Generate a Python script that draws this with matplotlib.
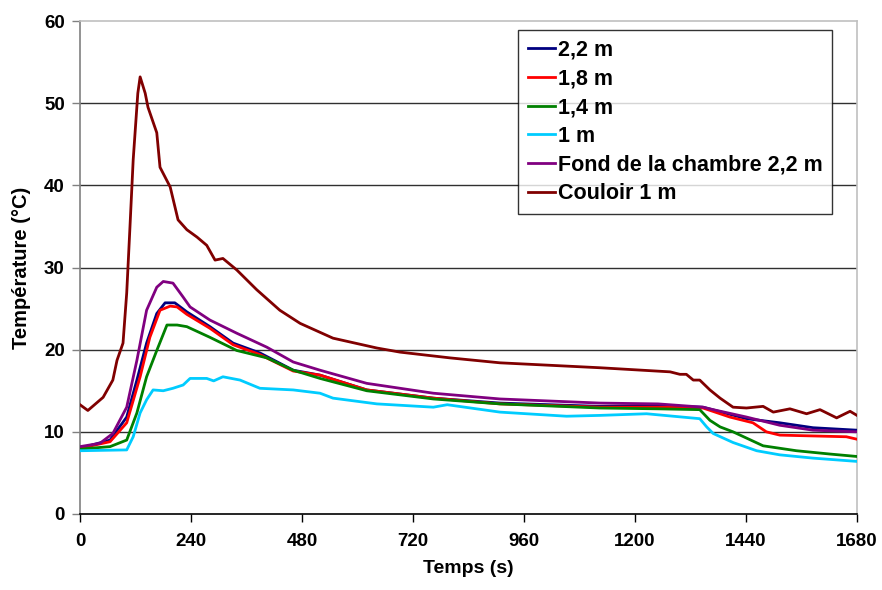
import matplotlib
matplotlib.use("Agg")
import matplotlib.pyplot as plt

plt.rcParams['font.family'] = ['Liberation Sans', 'DejaVu Sans']
plt.rcParams['font.weight'] = 'bold'

# --- data (time in s, temperature in °C) ---
t_couloir = [0, 17, 50, 71, 80, 93, 101, 108, 115, 125, 130, 141, 147, 166, 173, 195, 212, 231, 253, 274,
             292, 309, 339, 382, 432, 476, 547, 642, 692, 800, 908, 1016, 1124, 1276, 1297, 1311, 1326,
             1340, 1362, 1384, 1412, 1441, 1477, 1499, 1535, 1571, 1600, 1636, 1665, 1680]
T_couloir = [13.3, 12.6, 14.2, 16.3, 18.7, 20.8, 26.9, 34.9, 43.1, 51.2, 53.2, 51.2, 49.5, 46.4, 42.2, 39.8,
             35.8, 34.6, 33.7, 32.7, 30.9, 31.1, 29.7, 27.3, 24.8, 23.2, 21.4, 20.2, 19.7, 19.0, 18.4, 18.1,
             17.8, 17.3, 17.0, 17.0, 16.3, 16.3, 15.1, 14.1, 13.0, 12.9, 13.1, 12.4, 12.8, 12.2, 12.7, 11.7,
             12.5, 12.0]

t_fond = [0, 43, 71, 101, 123, 144, 166, 180, 201, 223, 238, 281, 339, 404, 461, 519, 620, 764, 908,
          1124, 1250, 1347, 1369, 1441, 1513, 1585, 1680]
T_fond = [8.2, 8.6, 9.8, 13.0, 18.7, 24.8, 27.6, 28.3, 28.1, 26.4, 25.2, 23.6, 22.0, 20.3, 18.5, 17.5,
          15.9, 14.7, 14.0, 13.5, 13.4, 13.0, 12.7, 11.8, 10.8, 10.2, 10.0]

t_22 = [0, 65, 101, 123, 144, 166, 184, 205, 231, 281, 331, 389, 461, 519, 620, 764, 908, 1124, 1250,
        1347, 1441, 1513, 1585, 1680]
T_22 = [8.0, 9.0, 11.8, 16.3, 20.8, 24.4, 25.7, 25.7, 24.6, 22.8, 20.8, 19.6, 17.5, 16.9, 15.1, 14.1,
        13.5, 13.1, 13.2, 13.0, 11.6, 11.1, 10.5, 10.2]

t_18 = [0, 65, 101, 130, 151, 173, 195, 210, 231, 281, 331, 389, 461, 519, 620, 764, 908, 1124, 1250,
        1347, 1405, 1455, 1484, 1513, 1585, 1657, 1680]
T_18 = [8.0, 8.8, 11.1, 16.7, 21.5, 24.8, 25.3, 25.2, 24.3, 22.6, 20.6, 19.4, 17.4, 16.9, 15.1, 14.1,
        13.4, 13.0, 13.0, 12.9, 11.8, 11.1, 10.0, 9.6, 9.5, 9.4, 9.1]

t_14 = [0, 65, 101, 123, 144, 166, 188, 210, 231, 281, 339, 404, 461, 519, 620, 764, 908, 1124, 1250,
        1340, 1362, 1384, 1412, 1477, 1549, 1621, 1680]
T_14 = [7.9, 8.2, 9.0, 12.3, 16.7, 19.9, 23.0, 23.0, 22.8, 21.5, 19.9, 19.0, 17.5, 16.5, 15.0, 14.0,
        13.4, 12.9, 12.8, 12.7, 11.4, 10.6, 10.0, 8.3, 7.7, 7.3, 7.0]

t_10 = [0, 101, 115, 130, 144, 158, 180, 201, 223, 238, 274, 289, 309, 346, 389, 461, 519, 547, 642,
        764, 794, 908, 1052, 1124, 1225, 1340, 1355, 1369, 1412, 1463, 1513, 1585, 1680]
T_10 = [7.7, 7.8, 9.4, 12.3, 13.9, 15.1, 15.0, 15.3, 15.7, 16.5, 16.5, 16.2, 16.7, 16.3, 15.3, 15.1,
        14.7, 14.1, 13.4, 13.0, 13.3, 12.4, 11.9, 12.0, 12.2, 11.6, 10.6, 9.8, 8.7, 7.7, 7.2, 6.8, 6.4]

series = [
    ("2,2 m", t_22, T_22, "#000080"),
    ("1,8 m", t_18, T_18, "#ff0000"),
    ("1,4 m", t_14, T_14, "#008000"),
    ("1 m", t_10, T_10, "#00ccff"),
    ("Fond de la chambre 2,2 m", t_fond, T_fond, "#800080"),
    ("Couloir 1 m", t_couloir, T_couloir, "#800000"),
]
x_ticks = [0, 240, 480, 720, 960, 1200, 1440, 1680]
y_ticks = [0, 10, 20, 30, 40, 50, 60]

fig = plt.figure(figsize=(8.82, 5.90), dpi=100)
ax = fig.add_axes([80/882, 76/590, 777/882, 493/590])

for y in y_ticks[1:-1]:
    ax.axhline(y, color="#303030", lw=1.0, zorder=1)

for label, t, T, c in series:
    ax.plot(t, T, color=c, lw=2.0, label=label, zorder=3)

ax.set_xlim(0, 1680)
ax.set_ylim(0, 60)
ax.set_xticks(x_ticks)
ax.set_yticks(y_ticks)
ax.tick_params(axis='both', direction='out', length=6, width=1, labelsize=13.5, pad=8)
ax.tick_params(axis='y', colors='#808080', labelcolor='black', pad=5)
ax.tick_params(axis='x', colors='black', labelcolor='black')
for lab in ax.get_xticklabels() + ax.get_yticklabels():
    lab.set_fontweight('bold')

ax.spines['left'].set_color('#808080')
ax.spines['bottom'].set_color('black')
ax.spines['top'].set_color('#c0c0c0')
ax.spines['right'].set_color('#c0c0c0')
for s in ax.spines.values():
    s.set_linewidth(1.2)

ax.set_xlabel("Temps (s)", fontsize=14, fontweight='bold', labelpad=7)
ax.set_ylabel("Température (°C)", fontsize=14.5, fontweight='bold', labelpad=9)

leg = ax.legend(loc='upper left', bbox_to_anchor=(438/777, 1 - 9/493), fontsize=15.5,
                frameon=True, fancybox=False, edgecolor='black', handlelength=1.25,
                handletextpad=0.15, labelspacing=0.36, borderpad=0.45, borderaxespad=0)
leg.get_frame().set_linewidth(1.0)
for txt in leg.get_texts():
    txt.set_fontweight('bold')

fig.savefig("out.png", dpi=100)
